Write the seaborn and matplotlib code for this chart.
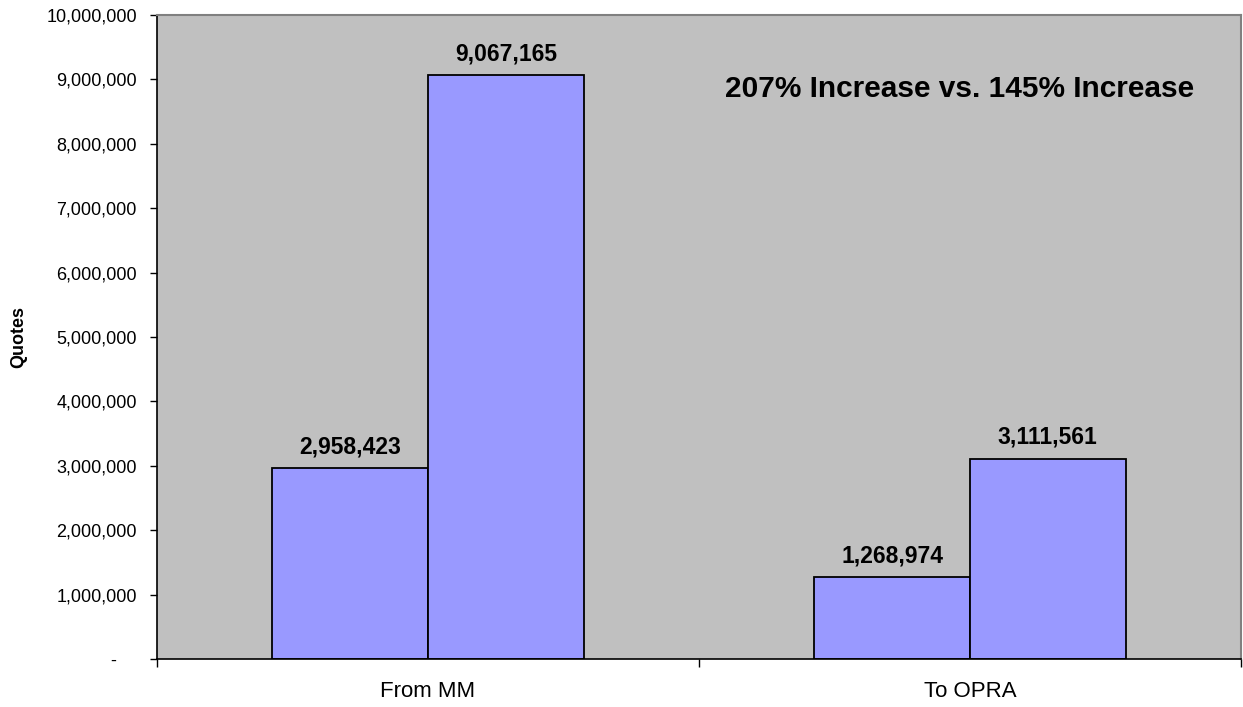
import matplotlib
matplotlib.use("Agg")
import matplotlib.pyplot as plt
import matplotlib.ticker as mticker
import seaborn as sns
import pandas as pd

# Quote counts per flow, two measurement periods
categories = ["From MM", "To OPRA"]
period_a = [2958423, 1268974]
period_b = [9067165, 3111561]
y_ticks = list(range(0, 10000001, 1000000))
headline = "207% Increase vs. 145% Increase"

df = pd.DataFrame({
    "flow": categories * 2,
    "period": ["A"] * len(categories) + ["B"] * len(categories),
    "quotes": period_a + period_b,
})

sns.set_style("white")
plt.rcParams["font.family"] = ["Liberation Sans", "DejaVu Sans"]
plt.rcParams["text.color"] = "black"
plt.rcParams["axes.labelcolor"] = "black"
plt.rcParams["xtick.color"] = "black"
plt.rcParams["ytick.color"] = "black"

W, H = 1243, 707
L, R, T, B = 157, 1241, 15, 659
fig = plt.figure(figsize=(W / 100, H / 100), dpi=100)
ax = fig.add_axes([L / W, 1 - B / H, (R - L) / W, (B - T) / H])
ax.set_facecolor("#C0C0C0")

sns.barplot(data=df, x="flow", y="quotes", hue="period", order=categories,
            palette=["#9999FF", "#9999FF"], edgecolor="black", linewidth=1.3,
            width=0.574, saturation=1, legend=False, ax=ax)

for cont in ax.containers:
    for rect, val in zip(cont, cont.datavalues):
        ax.annotate(f"{val:,.0f}", (rect.get_x() + rect.get_width() / 2, val),
                    xytext=(0, 10.8), textcoords="offset points",
                    ha="center", va="baseline", fontsize=16.5, fontweight="bold")


def accounting(v, pos):
    # zero shows as a dash, padded like the accounting number format
    return "-\u2007\u2007" if v == 0 else f"{v:,.0f}"


ax.set_xlim(-0.5, 1.5)
ax.set_ylim(0, 10000000)
ax.set_yticks(y_ticks)
ax.yaxis.set_major_formatter(mticker.FuncFormatter(accounting))
ax.tick_params(axis="y", which="major", direction="out", length=5, width=1,
               labelsize=13, left=True, pad=9.5)

ax.tick_params(axis="x", which="major", length=0, labelsize=16, pad=15.5)
ax.set_xticks([-0.5, 0.5, 1.5], minor=True)
ax.tick_params(axis="x", which="minor", direction="out", length=6, width=1, bottom=True)

ax.set_xlabel("")
ax.set_ylabel("Quotes", fontsize=13, fontweight="bold", labelpad=14)

for side in ["left", "bottom"]:
    ax.spines[side].set_color("black")
    ax.spines[side].set_linewidth(1.2)
for side in ["top", "right"]:
    ax.spines[side].set_visible(True)
    ax.spines[side].set_color("#808080")
    ax.spines[side].set_linewidth(1.5)

ax.text((959.5 - L) / (R - L), (B - 97) / (B - T), headline, transform=ax.transAxes,
        ha="center", va="baseline", fontsize=21.5, fontweight="bold")

fig.savefig("out.png", dpi=100, facecolor="white")
